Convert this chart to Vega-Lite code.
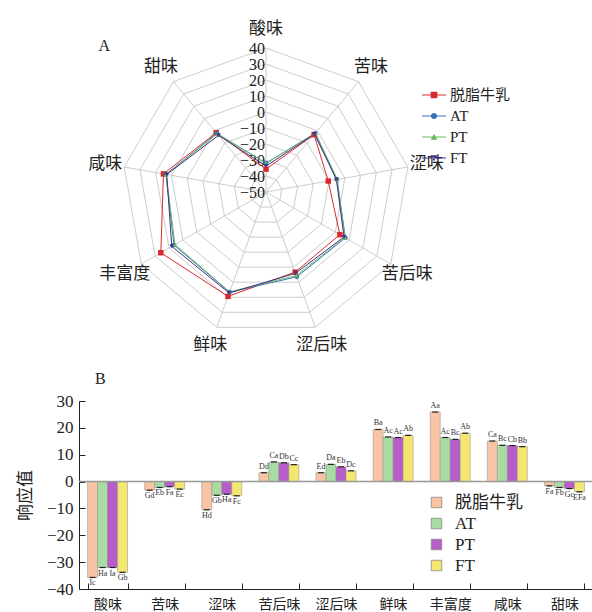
{
  "$schema": "https://vega.github.io/schema/vega-lite/v6.json",
  "padding": {"left": 16, "top": 0, "right": 0, "bottom": 0},
  "background": "white",
  "bounds": "flush",
  "spacing": 56,
  "config": {"view": {"stroke": null}},
  "datasets": {
    "attrs": [
      {"attr": "酸味", "idx": 0}, {"attr": "苦味", "idx": 1}, {"attr": "涩味", "idx": 2},
      {"attr": "苦后味", "idx": 3}, {"attr": "涩后味", "idx": 4}, {"attr": "鲜味", "idx": 5},
      {"attr": "丰富度", "idx": 6}, {"attr": "咸味", "idx": 7}, {"attr": "甜味", "idx": 8}
    ],
    "levels": [
      {"level": -50}, {"level": -40}, {"level": -30}, {"level": -20}, {"level": -10},
      {"level": 0}, {"level": 10}, {"level": 20}, {"level": 30}, {"level": 40}
    ],
    "rings": [
      {"level": -40, "idx": [0,1,2,3,4,5,6,7,8]},
      {"level": -30, "idx": [0,1,2,3,4,5,6,7,8]},
      {"level": -20, "idx": [0,1,2,3,4,5,6,7,8]},
      {"level": -10, "idx": [0,1,2,3,4,5,6,7,8]},
      {"level": 0, "idx": [0,1,2,3,4,5,6,7,8]},
      {"level": 10, "idx": [0,1,2,3,4,5,6,7,8]},
      {"level": 20, "idx": [0,1,2,3,4,5,6,7,8]},
      {"level": 30, "idx": [0,1,2,3,4,5,6,7,8]},
      {"level": 40, "idx": [0,1,2,3,4,5,6,7,8]}
    ],
    "scores": [
      {"attr": "酸味", "sample": "脱脂牛乳", "value": -35.7, "sig": "Ic"},
      {"attr": "酸味", "sample": "AT", "value": -32.0, "sig": "Ha"},
      {"attr": "酸味", "sample": "PT", "value": -32.0, "sig": "Ia"},
      {"attr": "酸味", "sample": "FT", "value": -33.8, "sig": "Gb"},
      {"attr": "苦味", "sample": "脱脂牛乳", "value": -3.2, "sig": "Gd"},
      {"attr": "苦味", "sample": "AT", "value": -2.2, "sig": "Eb"},
      {"attr": "苦味", "sample": "PT", "value": -1.9, "sig": "Fa"},
      {"attr": "苦味", "sample": "FT", "value": -2.8, "sig": "Ec"},
      {"attr": "涩味", "sample": "脱脂牛乳", "value": -10.5, "sig": "Hd"},
      {"attr": "涩味", "sample": "AT", "value": -5.1, "sig": "Gb"},
      {"attr": "涩味", "sample": "PT", "value": -4.7, "sig": "Ha"},
      {"attr": "涩味", "sample": "FT", "value": -5.3, "sig": "Fc"},
      {"attr": "苦后味", "sample": "脱脂牛乳", "value": 3.3, "sig": "Dd"},
      {"attr": "苦后味", "sample": "AT", "value": 7.3, "sig": "Ca"},
      {"attr": "苦后味", "sample": "PT", "value": 7.0, "sig": "Db"},
      {"attr": "苦后味", "sample": "FT", "value": 6.3, "sig": "Cc"},
      {"attr": "涩后味", "sample": "脱脂牛乳", "value": 3.3, "sig": "Ed"},
      {"attr": "涩后味", "sample": "AT", "value": 6.4, "sig": "Da"},
      {"attr": "涩后味", "sample": "PT", "value": 5.5, "sig": "Eb"},
      {"attr": "涩后味", "sample": "FT", "value": 4.0, "sig": "Dc"},
      {"attr": "鲜味", "sample": "脱脂牛乳", "value": 19.4, "sig": "Ba"},
      {"attr": "鲜味", "sample": "AT", "value": 16.6, "sig": "Ac"},
      {"attr": "鲜味", "sample": "PT", "value": 16.4, "sig": "Ac"},
      {"attr": "鲜味", "sample": "FT", "value": 17.2, "sig": "Ab"},
      {"attr": "丰富度", "sample": "脱脂牛乳", "value": 25.9, "sig": "Aa"},
      {"attr": "丰富度", "sample": "AT", "value": 16.4, "sig": "Ac"},
      {"attr": "丰富度", "sample": "PT", "value": 15.7, "sig": "Bc"},
      {"attr": "丰富度", "sample": "FT", "value": 18.0, "sig": "Ab"},
      {"attr": "咸味", "sample": "脱脂牛乳", "value": 15.1, "sig": "Ca"},
      {"attr": "咸味", "sample": "AT", "value": 13.5, "sig": "Bc"},
      {"attr": "咸味", "sample": "PT", "value": 13.4, "sig": "Cb"},
      {"attr": "咸味", "sample": "FT", "value": 13.0, "sig": "Bb"},
      {"attr": "甜味", "sample": "脱脂牛乳", "value": -1.6, "sig": "Fa"},
      {"attr": "甜味", "sample": "AT", "value": -2.2, "sig": "Fb"},
      {"attr": "甜味", "sample": "PT", "value": -2.6, "sig": "Gc"},
      {"attr": "甜味", "sample": "FT", "value": -3.8, "sig": "EFa"}
    ]
  },
  "vconcat": [
    {
      "width": 514,
      "height": 345,
      "layer": [
        {
          "data": {"name": "rings"},
          "transform": [
            {"flatten": ["idx"]},
            {"calculate": "(datum.level + 50) * sin(datum.idx * 2 * PI / 9)", "as": "gx"},
            {"calculate": "(datum.level + 50) * cos(datum.idx * 2 * PI / 9)", "as": "gy"}
          ],
          "mark": {"type": "line", "interpolate": "linear-closed", "color": "#cccccc", "strokeWidth": 1},
          "encoding": {
            "x": {"field": "gx", "type": "quantitative", "scale": {"domain": [-116.875, 204.375], "nice": false, "zero": false}, "axis": null},
            "y": {"field": "gy", "type": "quantitative", "scale": {"domain": [-95.625, 120], "nice": false, "zero": false}, "axis": null},
            "detail": {"field": "level", "type": "nominal"},
            "order": {"field": "idx", "type": "quantitative"}
          }
        },
        {
          "data": {"name": "attrs"},
          "transform": [
            {"calculate": "0", "as": "cx"},
            {"calculate": "90 * sin(datum.idx * 2 * PI / 9)", "as": "sx"},
            {"calculate": "90 * cos(datum.idx * 2 * PI / 9)", "as": "sy"}
          ],
          "mark": {"type": "rule", "color": "#cccccc", "strokeWidth": 1},
          "encoding": {
            "x": {"field": "cx", "type": "quantitative"},
            "y": {"field": "cx", "type": "quantitative"},
            "x2": {"field": "sx"},
            "y2": {"field": "sy"}
          }
        },
        {
          "data": {"name": "attrs"},
          "transform": [
            {"calculate": "102 * sin(datum.idx * 2 * PI / 9)", "as": "lx"},
            {"calculate": "102 * cos(datum.idx * 2 * PI / 9)", "as": "ly"}
          ],
          "mark": {"type": "text", "font": "Noto Sans CJK SC", "fontSize": 17, "color": "#222222", "align": "center", "baseline": "middle"},
          "encoding": {
            "x": {"field": "lx", "type": "quantitative"},
            "y": {"field": "ly", "type": "quantitative"},
            "text": {"field": "attr", "type": "nominal"}
          }
        },
        {
          "data": {"name": "levels"},
          "transform": [{"calculate": "datum.level + 50", "as": "ry"}, {"calculate": "-0.6", "as": "rx"}],
          "mark": {"type": "text", "font": "Liberation Serif", "fontSize": 16, "color": "#222222", "align": "right", "baseline": "middle", "dy": 1},
          "encoding": {
            "x": {"field": "rx", "type": "quantitative"},
            "y": {"field": "ry", "type": "quantitative"},
            "text": {"field": "level", "type": "quantitative", "format": "d"}
          }
        },
        {
          "data": {"values": [{"t": "A"}]},
          "mark": {"type": "text", "font": "Liberation Serif", "fontSize": 16, "color": "#222222", "align": "center", "baseline": "middle"},
          "encoding": {
            "x": {"datum": -101, "type": "quantitative"},
            "y": {"datum": 91, "type": "quantitative"},
            "text": {"field": "t", "type": "nominal"}
          }
        },
        {
          "data": {"name": "scores"},
          "transform": [
            {"lookup": "attr", "from": {"data": {"name": "attrs"}, "key": "attr", "fields": ["idx"]}},
            {"calculate": "(datum.value + 50) * sin(datum.idx * 2 * PI / 9)", "as": "px"},
            {"calculate": "(datum.value + 50) * cos(datum.idx * 2 * PI / 9)", "as": "py"}
          ],
          "layer": [
            {
              "mark": {"type": "line", "interpolate": "linear-closed", "strokeWidth": 1},
              "encoding": {
                "x": {"field": "px", "type": "quantitative"},
                "y": {"field": "py", "type": "quantitative"},
                "stroke": {"field": "sample", "type": "nominal", "sort": ["脱脂牛乳", "AT", "PT", "FT"], "scale": {"range": ["#d92a2a", "#3472b8", "#6dbb5e", "#40318c"]}, "legend": null},
                "order": {"field": "idx", "type": "quantitative"}
              }
            },
            {
              "transform": [{"filter": "datum.sample == '脱脂牛乳'"}],
              "mark": {"type": "point", "shape": "square", "filled": true, "color": "#d92a2a", "size": 30, "opacity": 1},
              "encoding": {"x": {"field": "px", "type": "quantitative"}, "y": {"field": "py", "type": "quantitative"}}
            },
            {
              "transform": [{"filter": "datum.sample == 'AT'"}],
              "mark": {"type": "point", "shape": "circle", "filled": true, "color": "#3472b8", "size": 22, "opacity": 1},
              "encoding": {"x": {"field": "px", "type": "quantitative"}, "y": {"field": "py", "type": "quantitative"}}
            },
            {
              "transform": [{"filter": "datum.sample == 'PT'"}],
              "mark": {"type": "point", "shape": "triangle-up", "filled": true, "color": "#6dbb5e", "size": 22, "opacity": 1},
              "encoding": {"x": {"field": "px", "type": "quantitative"}, "y": {"field": "py", "type": "quantitative"}}
            },
            {
              "transform": [{"filter": "datum.sample == 'FT'"}],
              "mark": {"type": "point", "shape": "triangle-down", "filled": true, "color": "#40318c", "size": 22, "opacity": 1},
              "encoding": {"x": {"field": "px", "type": "quantitative"}, "y": {"field": "py", "type": "quantitative"}}
            },
            {
              "transform": [{"filter": "datum.idx > 100"}],
              "mark": {"type": "point", "filled": true, "opacity": 1},
              "encoding": {
                "x": {"field": "px", "type": "quantitative"},
                "y": {"field": "py", "type": "quantitative"},
                "color": {"field": "sample", "type": "nominal", "scale": {"domain": ["脱脂牛乳", "AT", "PT", "FT"], "range": ["#d92a2a", "#3472b8", "#6dbb5e", "#40318c"]},
                  "legend": {"title": null, "orient": "none", "legendX": 342, "legendY": 82, "symbolSize": 576, "labelFont": "Liberation Serif, Noto Sans CJK SC", "labelFontSize": 15, "labelColor": "#222222", "labelOffset": 3, "rowPadding": -12}},
                "shape": {"field": "sample", "type": "nominal", "scale": {"domain": ["脱脂牛乳", "AT", "PT", "FT"], "range": [
                  "M-1,-0.05H1V0.05H-1Z M-0.28,-0.28H0.28V0.28H-0.28Z",
                  "M-1,-0.05H1V0.05H-1Z M0.26,0 A0.26,0.26 0 1,1 -0.26,0 A0.26,0.26 0 1,1 0.26,0 Z",
                  "M-1,-0.05H1V0.05H-1Z M0,-0.28L0.28,0.22H-0.28Z",
                  "M-1,-0.05H1V0.05H-1Z M0,0.28L0.28,-0.22H-0.28Z"
                ]}}
              }
            }
          ]
        }
      ]
    },
    {
      "width": 514,
      "height": 188,
      "title": {"text": "B", "anchor": "start", "frame": "group", "dx": 16, "offset": 5, "font": "Liberation Serif", "fontSize": 16, "fontWeight": "normal", "color": "#222222"},
      "layer": [
        {
          "data": {"name": "scores"},
          "encoding": {
            "x": {"field": "attr", "type": "nominal", "sort": ["酸味", "苦味", "涩味", "苦后味", "涩后味", "鲜味", "丰富度", "咸味", "甜味"],
              "scale": {"paddingInner": 0.3, "paddingOuter": 0.15},
              "axis": {"title": null, "labelAngle": 0, "tickBand": "extent", "tickSize": -6, "labelPadding": 14, "domainColor": "#222222", "tickColor": "#222222", "labelFont": "Noto Sans CJK SC", "labelFontSize": 14, "labelColor": "#222222"}},
            "xOffset": {"field": "sample", "type": "nominal", "sort": ["脱脂牛乳", "AT", "PT", "FT"], "scale": {"paddingInner": 0}},
            "y": {"field": "value", "type": "quantitative", "scale": {"domain": [-40, 30], "nice": false},
              "axis": {"title": "响应值", "values": [-40, -30, -20, -10, 0, 10, 20, 30], "labelOverlap": false, "grid": false, "tickSize": -6, "labelPadding": 12, "titlePadding": 12, "domainColor": "#222222", "tickColor": "#222222", "labelFont": "Liberation Serif", "labelFontSize": 17, "labelColor": "#222222", "titleFont": "Noto Sans CJK SC", "titleFontSize": 17, "titleFontWeight": "normal", "titleColor": "#222222"}}
          },
          "layer": [
            {
              "mark": {"type": "bar", "stroke": "#8c8c8c", "strokeWidth": 0.5},
              "encoding": {
                "fill": {"field": "sample", "type": "nominal", "sort": ["脱脂牛乳", "AT", "PT", "FT"], "scale": {"range": ["#f8c4a4", "#a9dca3", "#b75cc9", "#f4e771"]},
                  "legend": {"title": null, "orient": "none", "legendX": 349, "legendY": 494, "symbolType": "square", "symbolSize": 110, "symbolStrokeColor": "#888888", "symbolStrokeWidth": 0.8, "labelFont": "Liberation Serif, Noto Sans CJK SC", "labelFontSize": 17, "labelColor": "#222222", "labelOffset": 10, "rowPadding": 3}}
              }
            },
            {
              "mark": {"type": "tick", "color": "#222222", "size": 6, "thickness": 1.2, "opacity": 1},
              "encoding": {}
            },
            {
              "transform": [{"filter": "datum.value > 0"}],
              "mark": {"type": "text", "font": "Liberation Serif", "fontSize": 8, "color": "#333333", "baseline": "bottom", "dy": -2},
              "encoding": {"text": {"field": "sig", "type": "nominal"}}
            },
            {
              "transform": [{"filter": "datum.value < 0"}],
              "mark": {"type": "text", "font": "Liberation Serif", "fontSize": 8, "color": "#333333", "baseline": "top", "dy": 2},
              "encoding": {"text": {"field": "sig", "type": "nominal"}}
            }
          ]
        },
        {
          "data": {"values": [{"z": 0}]},
          "mark": {"type": "rule", "color": "#999999", "strokeWidth": 1.5},
          "encoding": {"y": {"field": "z", "type": "quantitative",
            "axis": {"title": "响应值", "values": [-40, -30, -20, -10, 0, 10, 20, 30], "labelOverlap": false, "grid": false, "tickSize": -6, "labelPadding": 12, "titlePadding": 12, "domainColor": "#222222", "tickColor": "#222222", "labelFont": "Liberation Serif", "labelFontSize": 17, "labelColor": "#222222", "titleFont": "Noto Sans CJK SC", "titleFontSize": 17, "titleFontWeight": "normal", "titleColor": "#222222"}}}
        }
      ]
    }
  ]
}
